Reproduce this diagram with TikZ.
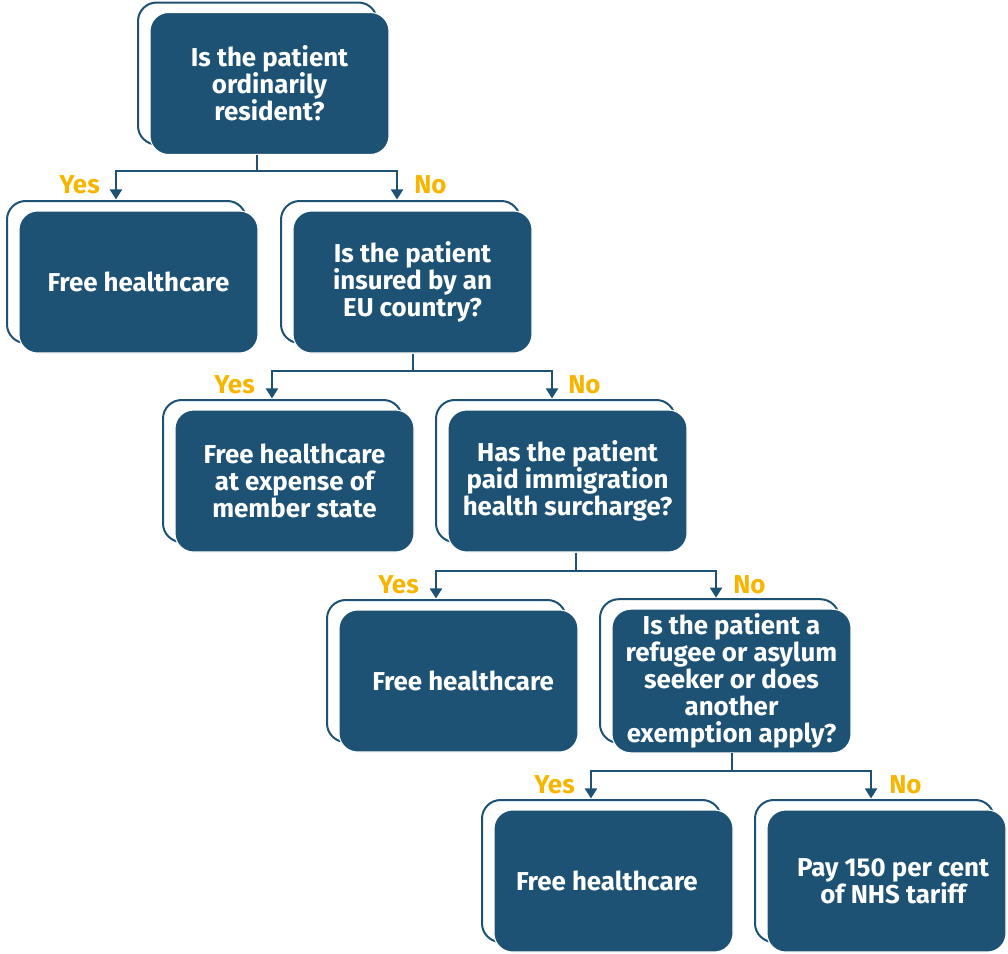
\documentclass[tikz,border=0pt]{standalone}
\usepackage{fontspec}
\setmainfont{Fira Sans}
\usetikzlibrary{arrows.meta,shadows}
\definecolor{NHSBlue}{HTML}{1D5274}
\definecolor{AnswerGold}{HTML}{F7B500}

\begin{document}
\begin{tikzpicture}[x=0.75pt,y=-0.75pt,
    every node/.style={font=\fontsize{19.4}{20.25}\selectfont\bfseries},
    box/.style={fill=NHSBlue,draw=white,line width=0.8pt,rounded corners=14pt,
      minimum width=179.25pt,minimum height=106.5pt,text=white,align=center,
      copy shadow={shadow xshift=-9pt,shadow yshift=7.5pt,fill=white,draw=NHSBlue,line width=1.5pt}},
    link/.style={draw=NHSBlue,line width=1.5pt,-{Triangle[width=9pt,length=7.5pt]}},
    answer/.style={text=AnswerGold,inner sep=0pt}]
  \useasboundingbox (0,0) rectangle (1008,954);

  % decision boxes
  \node[box] (resident) at (269.5,83.5) {Is the patient\\ordinarily\\resident?};
  \node[box] (freeA) at (138.5,282) {Free healthcare};
  \node[box] (insured) at (412.5,282) {Is the patient\\insured by an\\EU country?};
  \node[box] (member) at (294.5,481) {Free healthcare\\at expense of\\member state};
  \node[box] (surcharge) at (567.5,481) {Has the patient\\paid immigration\\health surcharge?};
  \node[box] (freeB) at (458.5,681) {\hspace*{7pt}Free healthcare};
  \node[box] (refugee) at (731.5,681) {Is the patient a\\refugee or asylum\\seeker or does\\another\\exemption apply?};
  \node[box] (freeC) at (613.5,881) {Free healthcare\hspace*{10pt}};
  \node[box] (tariff) at (886.5,881) {\hspace*{10pt}Pay 150 per cent\\\hspace*{10pt}of NHS tariff};

  % connectors
  \draw[link] ([xshift=-9.4pt]resident.south) -- ++(0,16) -| ([xshift=-16.9pt,yshift=8.25pt]freeA.north);
  \draw[link] ([xshift=-9.4pt]resident.south) -- ++(0,16) -| ([xshift=-11.6pt,yshift=8.25pt]insured.north);
  \draw[link] (insured.south) -- ++(0,17) -| ([xshift=-16.9pt,yshift=8.25pt]member.north);
  \draw[link] (insured.south) -- ++(0,17) -| ([xshift=-11.6pt,yshift=8.25pt]surcharge.north);
  \draw[link] ([xshift=6.4pt]surcharge.south) -- ++(0,18) -| ([xshift=-16.9pt,yshift=8.25pt]freeB.north);
  \draw[link] ([xshift=6.4pt]surcharge.south) -- ++(0,18) -| ([xshift=-11.6pt,yshift=8.25pt]refugee.north);
  \draw[link] (refugee.south) -- ++(0,18) -| ([xshift=-16.9pt,yshift=8.25pt]freeC.north);
  \draw[link] (refugee.south) -- ++(0,18) -| ([xshift=-11.6pt,yshift=8.25pt]tariff.north);

  % answers
  \node[answer,anchor=east] (yesA) at (100,185) {Yes};
  \node[answer,anchor=west] (noA) at (414,185) {No};
  \node[answer,anchor=east] (yesB) at (255,385) {Yes};
  \node[answer,anchor=west] (noB) at (568,385) {No};
  \node[answer,anchor=east] (yesC) at (419,585) {Yes};
  \node[answer,anchor=west] (noC) at (733,585) {No};
  \node[answer,anchor=east] (yesD) at (575,785) {Yes};
  \node[answer,anchor=west] (noD) at (889,785) {No};
\end{tikzpicture}
\end{document}
